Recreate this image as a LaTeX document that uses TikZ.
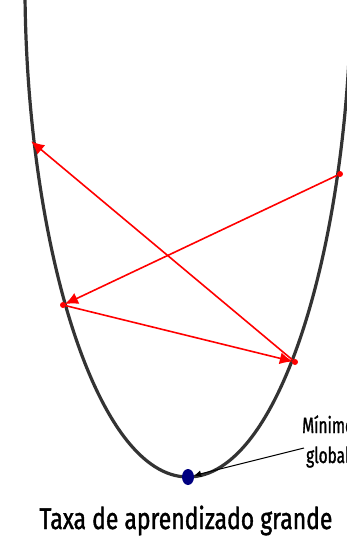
\documentclass[tikz,border=0pt]{standalone}
\usepackage{fontspec}
\setmainfont{Fira Sans}[FakeStretch=0.765, FakeBold=1.2]
\newfontfamily\lblfont{Fira Sans}[FakeStretch=0.7, FakeBold=1.2]
\usetikzlibrary{arrows.meta,shapes.geometric}
\definecolor{curvegray}{HTML}{333333}
\definecolor{mindot}{RGB}{0,0,128}
\tikzset{
  curveline/.style={draw=curvegray, line width=3.2pt, line cap=round},
  reddot/.style={circle, fill=red, inner sep=0pt, minimum size=6pt},
  stepline/.style={draw=red, line width=1.6pt, -{Latex[length=13pt,width=12pt]}, shorten >=-1pt},
  ptrline/.style={draw=black!70, line width=1pt, -{Latex[length=7pt,width=7pt]}, black},
  mindotstyle/.style={ellipse, fill=mindot, inner sep=0pt, minimum width=12pt, minimum height=16pt},
  lbl/.style={inner sep=0pt, font=\lblfont\fontsize{22}{24}\selectfont},
  ttl/.style={inner sep=0pt, font=\fontsize{30}{32}\selectfont}
}
\begin{document}
\begin{tikzpicture}[x=1pt,y=-1pt]
\useasboundingbox (0,0) rectangle (347,542);
\clip (0,0) rectangle (347,542);
\fill[white] (0,0) rectangle (347,542);
\draw[curveline] (25,-5) .. controls (27,240) and (95,477) .. (188,477)
  .. controls (281,477) and (349,240) .. (351,-5);
\node[mindotstyle] (min) at (188,477) {};
\node[reddot] (A) at (340,174) {};
\node[reddot] (B) at (63,305) {};
\node[reddot] (C) at (295,362) {};
\coordinate (D) at (32,142);
\draw[stepline] (A) -- (B);
\draw[stepline] (B) -- (C);
\draw[stepline] (C) -- (D);
\node[lbl, anchor=base west] (mtxt) at (302,433) {Mínimo};
\node[lbl, anchor=base west] (gtxt) at (306,463) {global};
\coordinate (ptr) at (304,448);
\draw[ptrline] (ptr) -- (min);
\node[ttl, anchor=base] (title) at (186,529) {Taxa de aprendizado grande};
\end{tikzpicture}
\end{document}
